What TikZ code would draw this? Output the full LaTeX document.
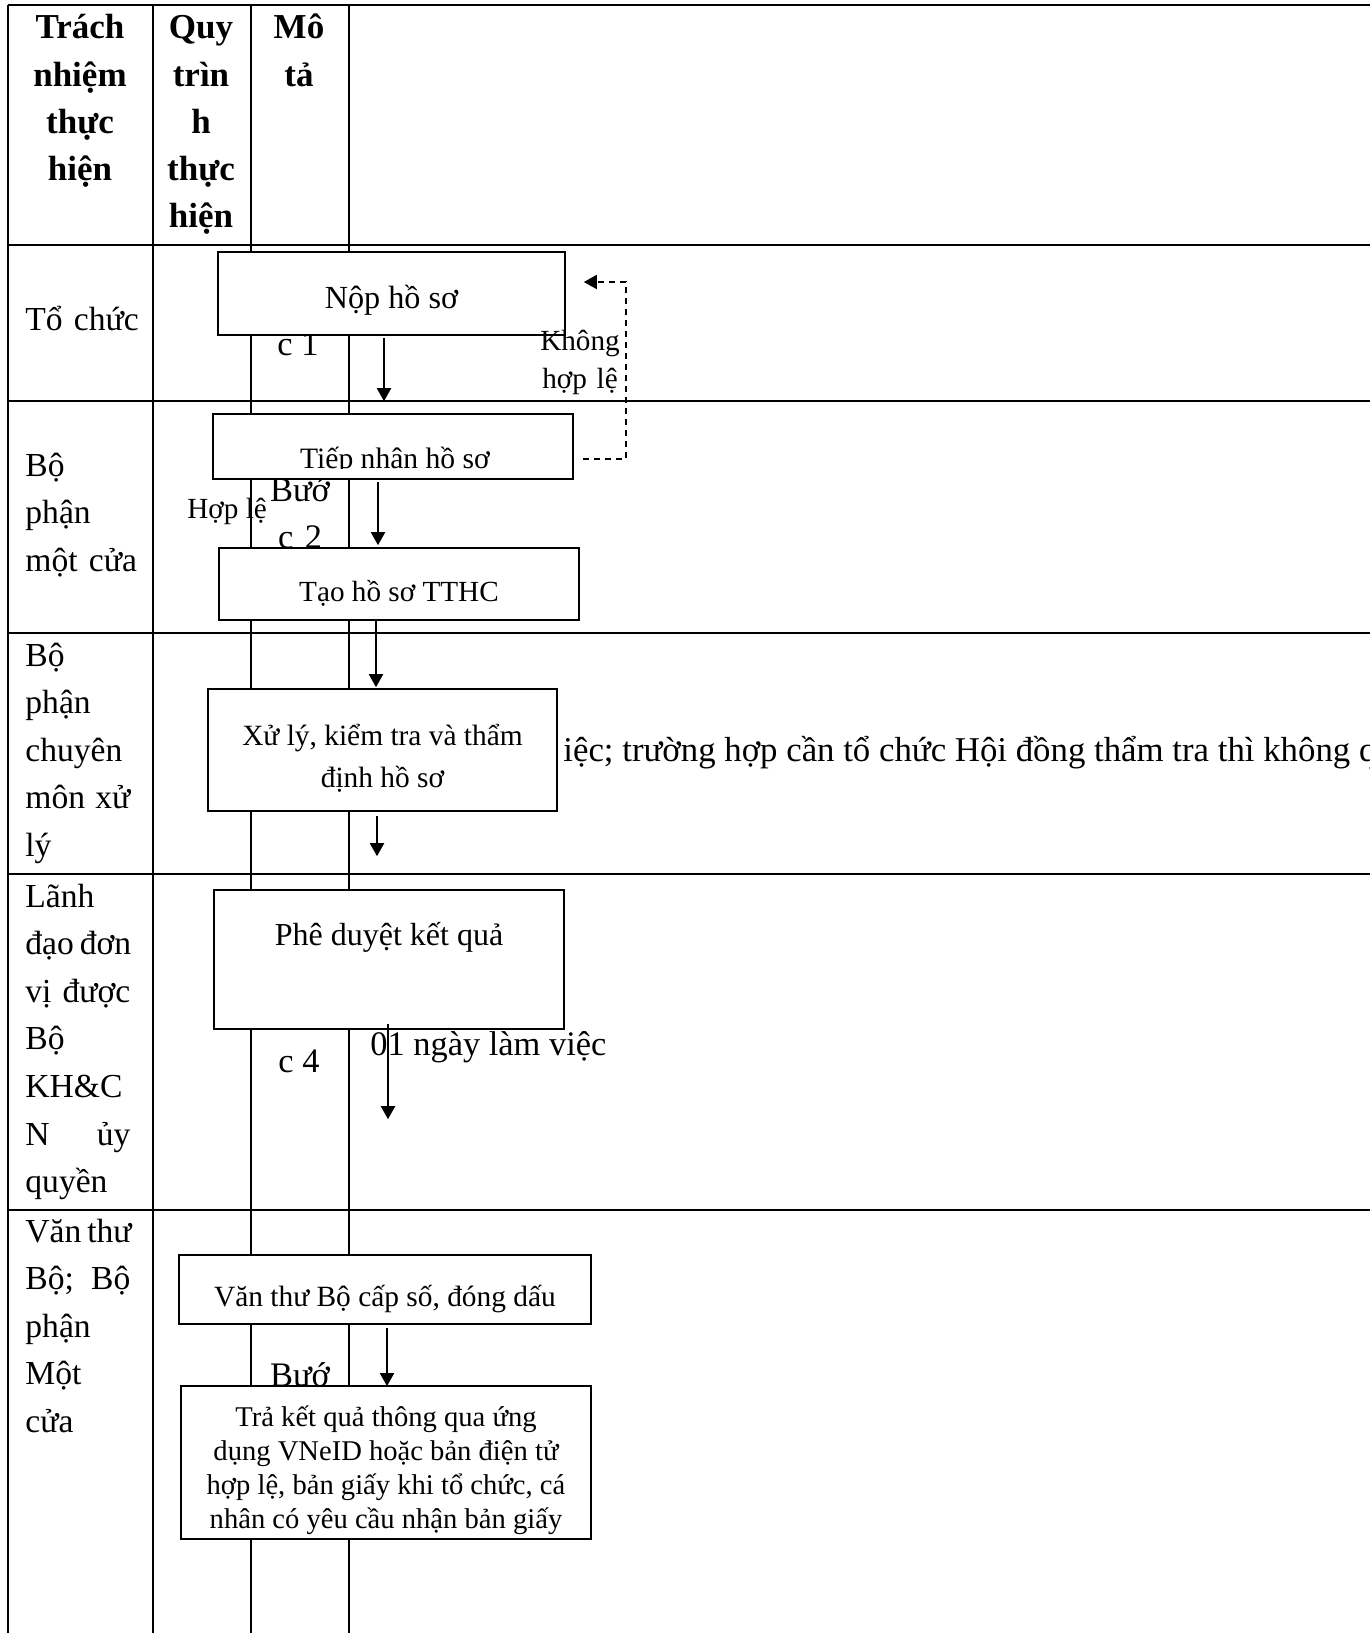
\documentclass[tikz,border=0pt]{standalone}
\usepackage{fontspec}
\setmainfont{Liberation Serif}
\usetikzlibrary{arrows.meta, positioning}

\newcommand{\spreadline}[2]{\leavevmode\hbox to 52.5pt{#1\hskip 3pt plus 1fill #2}}

\begin{document}
\begin{tikzpicture}[
    x=0.5pt, y=-0.5pt,
    grid/.style={line width=1.2pt},
    head/.style={anchor=base, inner sep=0pt, text width=70pt, align=center,
                 font=\fontsize{17.5}{23.6}\selectfont\bfseries},
    lane/.style={anchor=base west, inner sep=0pt, text width=60pt, align=left,
                 font=\fontsize{16.8}{23.8}\selectfont},
    stepbox/.style={rectangle, draw=black, fill=white, line width=0.8pt,
                    align=center, inner sep=2pt, font=\fontsize{14.7}{20.8}\selectfont},
    big/.style={inner sep=0pt, font=\fontsize{17.2}{23.9}\selectfont},
    small/.style={inner sep=0pt, font=\fontsize{14.6}{19}\selectfont},
    arrow/.style={-{Triangle[length=6.5pt, width=7pt]}, line width=1pt},
    backarrow/.style={-{Triangle[length=6.5pt, width=7pt]}, line width=0.8pt,
                      dash pattern=on 3pt off 2.5pt}
]
\useasboundingbox (0,0) rectangle (1370,1633);
\clip (0,0) rectangle (1370,1633);

% table
\foreach \y in {5,245,401,633,874,1210}
    \draw[grid] (8,\y) -- (1370,\y);
\foreach \x in {8,153,251,349}
    \draw[grid] (\x,5) -- (\x,1633);

% header row
\node[head] (hdresp) at (80,39) {Trách\\nhiệm\\thực\\hiện};
\node[head] (hdproc) at (201,39) {Quy\\trìn\\h\\thực\\hiện};
\node[head] (hddesc) at (299,39) {Mô\\tả};

% responsibility column
\node[lane] (lane1) at (25,330) {Tổ chức};
\node[lane] (lane2) at (25,476) {Bộ\\phận\\một cửa};
\node[lane] (lane3) at (25,666) {Bộ\\phận\\chuyên\\\spreadline{môn}{xử}\\lý};
\node[lane] (lane4) at (25,907) {Lãnh\\\spreadline{đạo}{đơn}\\\spreadline{vị}{được}\\Bộ\\KH\&C\\\spreadline{N}{ủy}\\quyền};
\node[lane] (lane5) at (25,1242) {\spreadline{Văn}{thư}\\\spreadline{Bộ;}{Bộ}\\phận\\Một\\cửa};

% step labels (partly hidden by the boxes)
\node[big, anchor=base] (buoc1) at (298,355) {c 1};
\node[big, anchor=base, text width=40pt, align=center] (buoc2) at (300,501) {Bướ\\c 2};
\node[big, anchor=base] (buoc4) at (299,1072) {c 4};
\node[big, anchor=base] (buoc6) at (300,1386) {Bướ};
\node[big, anchor=base west, font=\fontsize{17.4}{24}\selectfont] (ghichu) at (563,761)
    {iệc; trường hợp cần tổ chức Hội đồng thẩm tra thì không q};

% process boxes
\node[stepbox, minimum width=173.5pt, minimum height=41.5pt, text height=18pt, text depth=3.5pt,
      font=\fontsize{16.1}{19}\selectfont] (nop) at (391.5,293.5) {Nộp hồ sơ};
\node[stepbox, minimum width=180pt, minimum height=32.5pt] (tiep) at (393,446.5) {};
\begin{scope}
    \clip (tiep.north west) rectangle ([shift={(0,-11)}]tiep.south east);
    \node[inner sep=0pt, font=\fontsize{14.8}{16}\selectfont] (tieptext) at (395,461) {Tiếp nhận hồ sơ};
\end{scope}
\node[stepbox, minimum width=180pt, minimum height=36pt, text height=21pt, text depth=3.5pt,
      font=\fontsize{14.6}{17}\selectfont] (tao) at (399,584) {Tạo hồ sơ TTHC};
\node[stepbox, minimum width=174.5pt, minimum height=61pt] (xuly) at (382.5,750)
    {\rule{0pt}{19pt}Xử lý, kiểm tra và thẩm\\định hồ sơ};
\node[stepbox, minimum width=175pt, minimum height=69.5pt, text height=12pt, text depth=26.5pt,
      font=\fontsize{16}{20}\selectfont] (pheduyet) at (389,959.5) {Phê duyệt kết quả};
\node[stepbox, minimum width=206pt, minimum height=34.5pt, text height=20pt, text depth=3.5pt]
    (vanthu) at (385,1289.5) {Văn thư Bộ cấp số, đóng dấu};
\node[stepbox, minimum width=205pt, minimum height=75.5pt, font=\fontsize{14.3}{17}\selectfont]
    (trakq) at (386,1462.5) {\rule{0pt}{18.5pt}Trả kết quả thông qua ứng\\dụng VNeID hoặc bản điện tử\\hợp lệ, bản giấy khi tổ chức, cá\\nhân có yêu cầu nhận bản giấy};

% flow
\draw[arrow] ([shift={(-7.5,2)}]nop.south) -- ([shift={(-9,-12)}]tiep.north);
\draw[arrow] ([shift={(-15,2)}]tiep.south) -- ([shift={(-21,-2)}]tao.north);
\draw[arrow] ([shift={(-23,0)}]tao.south) -- ([shift={(-6.5,-1)}]xuly.north);
\draw[arrow] ([shift={(-5.5,4)}]xuly.south) -- ([shift={(-12,-33)}]pheduyet.north);
\draw[arrow] ([shift={(-1,-6)}]pheduyet.south) -- ([shift={(3,-135)}]vanthu.north);
\draw[arrow] ([shift={(2,3)}]vanthu.south) -- ([shift={(1,1)}]trakq.north);
\draw[backarrow] ([shift={(9,12.5)}]tiep.east) -- ++(43,0) |- ([shift={(18,-11.5)}]nop.east);

% branch labels
\node[small, anchor=base, text width=50pt, align=center] (khonghople) at (580,350) {Không\\hợp lệ};
\node[small, anchor=base west] (hople) at (187,518) {Hợp lệ};
\node[big, anchor=base west] (thoigian) at (370,1055) {01 ngày làm việc};
\end{tikzpicture}
\end{document}
